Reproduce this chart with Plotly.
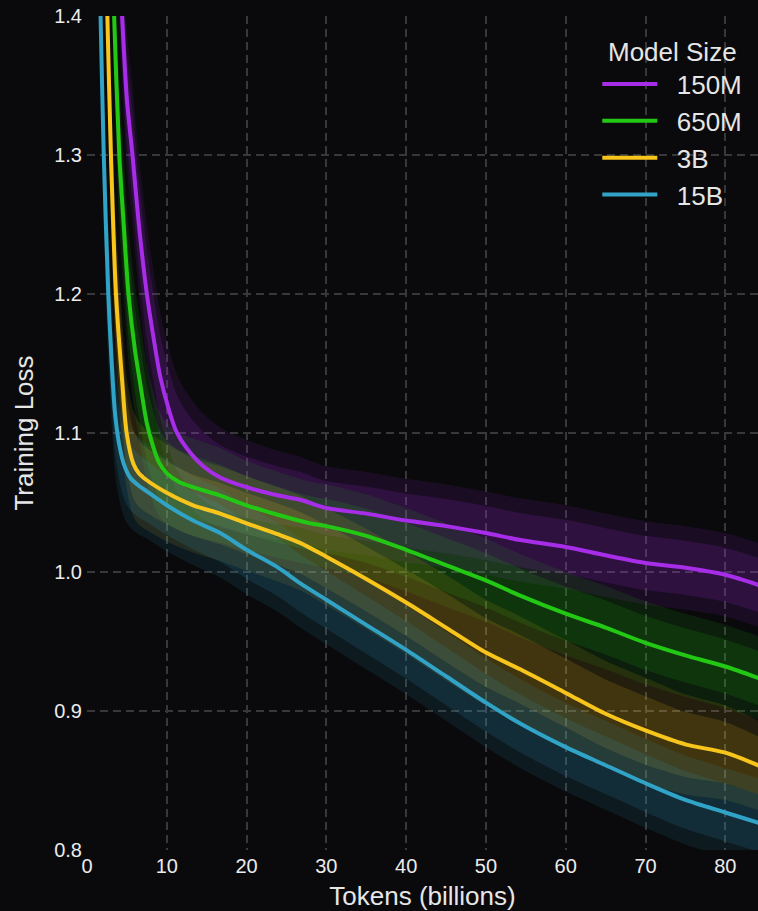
import plotly.graph_objects as go

# ---- data (tokens in billions, smoothed training loss) ----
series_names = ["150M", "650M", "3B", "15B"]

x_150m = [3.6, 4.4, 5.0, 5.7, 6.5, 7.5, 8.3, 9.2, 10.3, 11.2, 12.5, 14.5, 16.7, 20, 24, 26.7, 30, 35, 40, 45, 50, 54.3, 60, 65, 70, 75, 80, 84.5]
y_150m = [1.50, 1.40, 1.34, 1.30, 1.25, 1.20, 1.170, 1.140, 1.116, 1.101, 1.089, 1.0765, 1.068, 1.061, 1.055, 1.052, 1.046, 1.042, 1.037, 1.033, 1.028, 1.023, 1.018, 1.012, 1.0065, 1.003, 0.998, 0.990]
s_150m = [0.05, 0.05, 0.05, 0.05, 0.05, 0.05, 0.048, 0.046, 0.044, 0.042, 0.04, 0.038, 0.036, 0.034, 0.032, 0.031, 0.03, 0.03, 0.03, 0.03, 0.03, 0.03, 0.03, 0.03, 0.03, 0.03, 0.03, 0.03]

x_650m = [2.9, 3.4, 4.05, 4.6, 5.2, 6.0, 6.6, 7.5, 8.3, 9.0, 10, 11.5, 13.3, 16.7, 20, 24, 28, 30, 35, 40, 45, 50, 54.3, 60, 65, 70, 75, 80, 84.5]
y_650m = [1.50, 1.40, 1.30, 1.25, 1.20, 1.16, 1.138, 1.107, 1.090, 1.079, 1.071, 1.065, 1.061, 1.055, 1.048, 1.041, 1.035, 1.033, 1.026, 1.016, 1.005, 0.994, 0.983, 0.970, 0.960, 0.949, 0.940, 0.932, 0.923]
s_650m = [0.05, 0.05, 0.05, 0.05, 0.048, 0.046, 0.045, 0.042, 0.04, 0.038, 0.036, 0.035, 0.035, 0.034, 0.032, 0.031, 0.03, 0.03, 0.03, 0.03, 0.03, 0.03, 0.03, 0.03, 0.03, 0.03, 0.03, 0.03, 0.03]

x_3b = [2.1, 2.55, 3.0, 3.63, 4.4, 4.97, 5.8, 6.5, 7.5, 10, 13.3, 16.7, 20, 24, 26.7, 30, 35, 40, 45, 50, 54.3, 60, 65, 70, 75, 80, 84.5]
y_3b = [1.50, 1.40, 1.30, 1.20, 1.138, 1.10, 1.078, 1.071, 1.066, 1.057, 1.048, 1.042, 1.035, 1.027, 1.021, 1.011, 0.995, 0.978, 0.960, 0.942, 0.930, 0.913, 0.898, 0.886, 0.876, 0.870, 0.860]
s_3b = [0.05, 0.05, 0.05, 0.05, 0.045, 0.04, 0.038, 0.037, 0.036, 0.035, 0.034, 0.034, 0.034, 0.034, 0.034, 0.035, 0.036, 0.037, 0.038, 0.038, 0.038, 0.038, 0.038, 0.038, 0.036, 0.034, 0.032]

x_15b = [1.3, 1.7, 2.1, 2.67, 3.1, 3.5, 4.0, 4.6, 5.4, 6.5, 7.5, 10, 13.3, 16.7, 20, 24, 26.7, 30, 35, 40, 45, 50, 54.3, 60, 65, 70, 75, 80, 84.5]
y_15b = [1.50, 1.40, 1.30, 1.20, 1.15, 1.115, 1.093, 1.078, 1.068, 1.062, 1.058, 1.048, 1.037, 1.028, 1.016, 1.003, 0.992, 0.980, 0.962, 0.944, 0.925, 0.906, 0.891, 0.874, 0.861, 0.848, 0.836, 0.827, 0.819]
s_15b = [0.05, 0.05, 0.05, 0.05, 0.046, 0.043, 0.04, 0.038, 0.036, 0.035, 0.034, 0.033, 0.032, 0.032, 0.032, 0.032, 0.032, 0.032, 0.032, 0.032, 0.032, 0.032, 0.032, 0.032, 0.032, 0.032, 0.032, 0.032, 0.032]

x_ticks = [0, 10, 20, 30, 40, 50, 60, 70, 80]
y_ticks = [0.8, 0.9, 1.0, 1.1, 1.2, 1.3, 1.4]

line_colors = ["#a72de8", "#22c814", "#f8c51c", "#30a3c6"]
band_rgb = [(167, 45, 232), (34, 200, 20), (248, 197, 28), (48, 163, 198)]

data = [
    (x_150m, y_150m, s_150m),
    (x_650m, y_650m, s_650m),
    (x_3b, y_3b, s_3b),
    (x_15b, y_15b, s_15b),
]

fig = go.Figure()

# noise bands (outer, lighter) and core (denser)
for (xs, ys, ss), (r, g, b) in zip(data, band_rgb):
    for frac, alpha in [(1.0, 0.11), (0.65, 0.14)]:
        upper = [y + s * frac for y, s in zip(ys, ss)]
        lower = [y - s * frac for y, s in zip(ys, ss)]
        fig.add_trace(go.Scatter(x=xs, y=upper, mode="lines",
                                 line=dict(width=0, shape="spline", smoothing=0.8),
                                 showlegend=False, hoverinfo="skip"))
        fig.add_trace(go.Scatter(x=xs, y=lower, mode="lines", fill="tonexty",
                                 fillcolor=f"rgba({r},{g},{b},{alpha})",
                                 line=dict(width=0, shape="spline", smoothing=0.8),
                                 showlegend=False, hoverinfo="skip"))

NBSP = "\u00a0"
for (xs, ys, ss), name, col in zip(data, series_names, line_colors):
    fig.add_trace(go.Scatter(x=xs, y=ys, mode="lines", name=NBSP * 2 + name,
                             line=dict(color=col, width=4, shape="spline", smoothing=0.8)))

grid = dict(showgrid=True, gridcolor="#38383a", gridwidth=1.5, griddash="8px,5px",
            zeroline=False, showline=False, ticks="",
            tickfont=dict(size=20, color="#ececec"))

fig.update_layout(
    width=758, height=911,
    paper_bgcolor="#0a0a0c", plot_bgcolor="#0a0a0c",
    margin=dict(l=87, r=0, t=16, b=61),
    font=dict(family="Liberation Sans, Arial, sans-serif", color="#e6e6e6"),
    xaxis=dict(range=[0, 84.1], tickvals=x_ticks, ticktext=[str(v) for v in x_ticks],
               ticklabelstandoff=2,
               title=dict(text="Tokens (billions)", font=dict(size=26, color="#e6e6e6"), standoff=12),
               **grid),
    yaxis=dict(range=[0.8, 1.4], tickvals=y_ticks, ticktext=[f"{v:.1f}" for v in y_ticks],
               ticklabelstandoff=4,
               title=dict(text="Training Loss", font=dict(size=26, color="#e6e6e6"), standoff=13),
               **grid),
    legend=dict(x=0.7605, y=0.987, xanchor="left", yanchor="top", traceorder="normal",
                bgcolor="rgba(0,0,0,0)", font=dict(size=26, color="#e6e6e6"),
                title=dict(text="Model Size", side="top center", font=dict(size=26, color="#e6e6e6")),
                itemwidth=55),
    showlegend=True,
)

fig.write_html("out.html", config={"displayModeBar": False},
               post_script="document.body.style.margin='0';document.body.style.padding='0';")
